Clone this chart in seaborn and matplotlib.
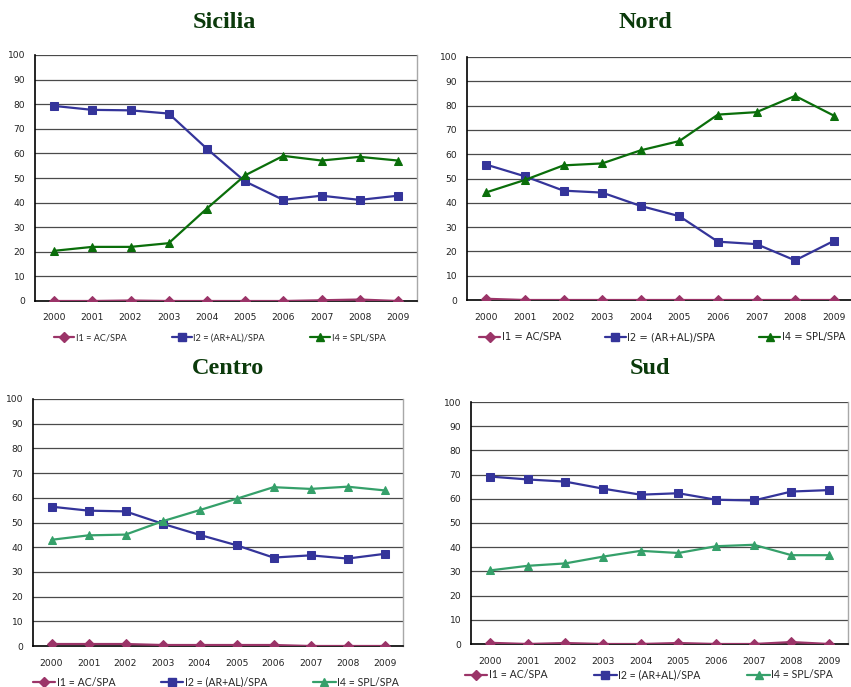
import matplotlib
matplotlib.use("Agg")
import matplotlib.pyplot as plt
from matplotlib.lines import Line2D
from matplotlib.ticker import FixedLocator
import numpy as np
import pandas as pd
import seaborn as sns

sns.set_style("white")
plt.rcParams["font.family"] = ["DejaVu Sans"]

years = ["2000", "2001", "2002", "2003", "2004", "2005", "2006", "2007", "2008", "2009"]
series_names = ["I1 = AC/SPA", "I2 = (AR+AL)/SPA", "I4 = SPL/SPA"]

sicilia_i1 = [0.0, 0.0, 0.2, 0.0, 0.0, 0.0, 0.0, 0.3, 0.6, 0.0]
sicilia_i2 = [79.3, 77.7, 77.5, 76.2, 61.9, 48.6, 41.1, 42.8, 41.1, 42.8]
sicilia_i4 = [20.4, 22.0, 22.0, 23.5, 37.6, 51.1, 59.0, 57.1, 58.6, 57.1]

nord_i1 = [0.5, 0.0, 0.0, 0.0, 0.0, 0.0, 0.0, 0.0, 0.0, 0.0]
nord_i2 = [55.7, 50.9, 45.0, 44.2, 38.7, 34.5, 24.0, 23.0, 16.3, 24.3]
nord_i4 = [44.3, 49.4, 55.4, 56.2, 61.6, 65.4, 76.3, 77.3, 84.0, 75.9]

centro_i1 = [0.8, 0.8, 0.8, 0.4, 0.4, 0.4, 0.4, 0.0, 0.0, 0.0]
centro_i2 = [56.4, 54.8, 54.5, 49.5, 45.0, 40.8, 35.8, 36.7, 35.4, 37.3]
centro_i4 = [43.0, 44.8, 45.1, 50.5, 55.0, 59.6, 64.3, 63.6, 64.5, 63.0]

sud_i1 = [0.5, 0.0, 0.4, 0.0, 0.0, 0.4, 0.0, 0.0, 0.8, 0.0]
sud_i2 = [69.2, 68.0, 67.1, 64.2, 61.7, 62.3, 59.6, 59.3, 63.0, 63.6]
sud_i4 = [30.4, 32.3, 33.3, 36.1, 38.5, 37.6, 40.4, 41.0, 36.7, 36.7]

W, H = 851, 687
fig = plt.figure(figsize=(W / 100, H / 100), dpi=100)
fig.patch.set_facecolor("white")

col_i1 = "#9B3468"
col_i2 = "#34349A"
green_dark = "#0A6E0A"
green_light = "#35A06A"
title_color = "#0B3A0B"
markers = {series_names[0]: "D", series_names[1]: "s", series_names[2]: "^"}
msizes = {series_names[0]: 4.6, series_names[1]: 6.0, series_names[2]: 6.2}


def px_axes(left, top, right, bottom):
    return fig.add_axes([left / W, 1 - bottom / H, (right - left) / W, (bottom - top) / H])


def panel(box, title, title_xy, i1, i2, i4, green, leg_xy, leg_font, leg_family,
          colspace, handlelen):
    ax = px_axes(*box)
    palette = {series_names[0]: col_i1, series_names[1]: col_i2, series_names[2]: green}
    df = pd.DataFrame({
        "x": list(range(len(years))) * 3,
        "value": list(i1) + list(i2) + list(i4),
        "serie": [n for n in series_names for _ in years],
    })
    for name in series_names:
        sub = df[df["serie"] == name]
        sns.lineplot(data=sub, x="x", y="value", color=palette[name], marker=markers[name],
                     markersize=msizes[name], markeredgecolor=palette[name], linewidth=1.6,
                     ax=ax, legend=False, zorder=3)
    ax.set_xlim(-0.5, len(years) - 0.5)
    ax.set_ylim(0, 100)
    ax.set_xlabel("")
    ax.set_ylabel("")
    ax.set_yticks(np.arange(0, 101, 10))
    ax.set_xticks(range(len(years)))
    ax.set_xticklabels(years)
    ax.xaxis.set_minor_locator(FixedLocator(np.arange(-0.5, len(years), 1)))
    ax.tick_params(axis="x", which="major", length=0, pad=9, labelsize=6.6, colors="#222222")
    ax.tick_params(axis="x", which="minor", length=4, width=0.8, direction="out", color="#000000")
    ax.tick_params(axis="y", which="major", length=4, width=0.8, direction="out", pad=3,
                   labelsize=6.6, colors="#000000", labelcolor="#222222")
    for yv in range(10, 101, 10):
        ax.axhline(yv, color="#4a4a4a", lw=0.9, zorder=1)
    ax.spines["top"].set_visible(False)
    ax.spines["right"].set_color("#a8a8a8")
    ax.spines["right"].set_linewidth(1.0)
    for s in ["left", "bottom"]:
        ax.spines[s].set_color("#000000")
        ax.spines[s].set_linewidth(1.2)
    ax.set_facecolor("white")

    fig.text(title_xy[0] / W, 1 - title_xy[1] / H, title, ha="center", va="center",
             fontsize=17.5, fontweight="bold", family="Liberation Serif", color=title_color)

    handles = [Line2D([0], [0], color=palette[n], marker=markers[n], markersize=msizes[n],
                      markeredgecolor=palette[n], lw=1.6) for n in series_names]
    fig.legend(handles, series_names, loc="center left",
               bbox_to_anchor=(leg_xy[0] / W, 1 - leg_xy[1] / H), ncol=3, frameon=False,
               handlelength=handlelen, handletextpad=0.15, columnspacing=colspace,
               borderpad=0, borderaxespad=0,
               prop={"size": leg_font, "family": leg_family})
    return ax


panel((35, 55, 417, 301), "Sicilia", (224, 22), sicilia_i1, sicilia_i2, sicilia_i4,
      green_dark, (54, 338), 6.6, "Lato", 4.95, 2.2)
panel((467, 57, 853, 300), "Nord", (645, 22), nord_i1, nord_i2, nord_i4,
      green_dark, (479, 337), 7.2, "DejaVu Sans", 4.4, 2.1)
panel((33, 399, 403, 646), "Centro", (228, 368), centro_i1, centro_i2, centro_i4,
      green_light, (33, 682), 7.6, "Lato", 4.35, 2.1)
panel((471, 402, 848, 644), "Sud", (650, 368), sud_i1, sud_i2, sud_i4,
      green_light, (465, 675), 7.6, "Lato", 4.45, 2.1)

fig.savefig("out.png", dpi=100, facecolor="white")
